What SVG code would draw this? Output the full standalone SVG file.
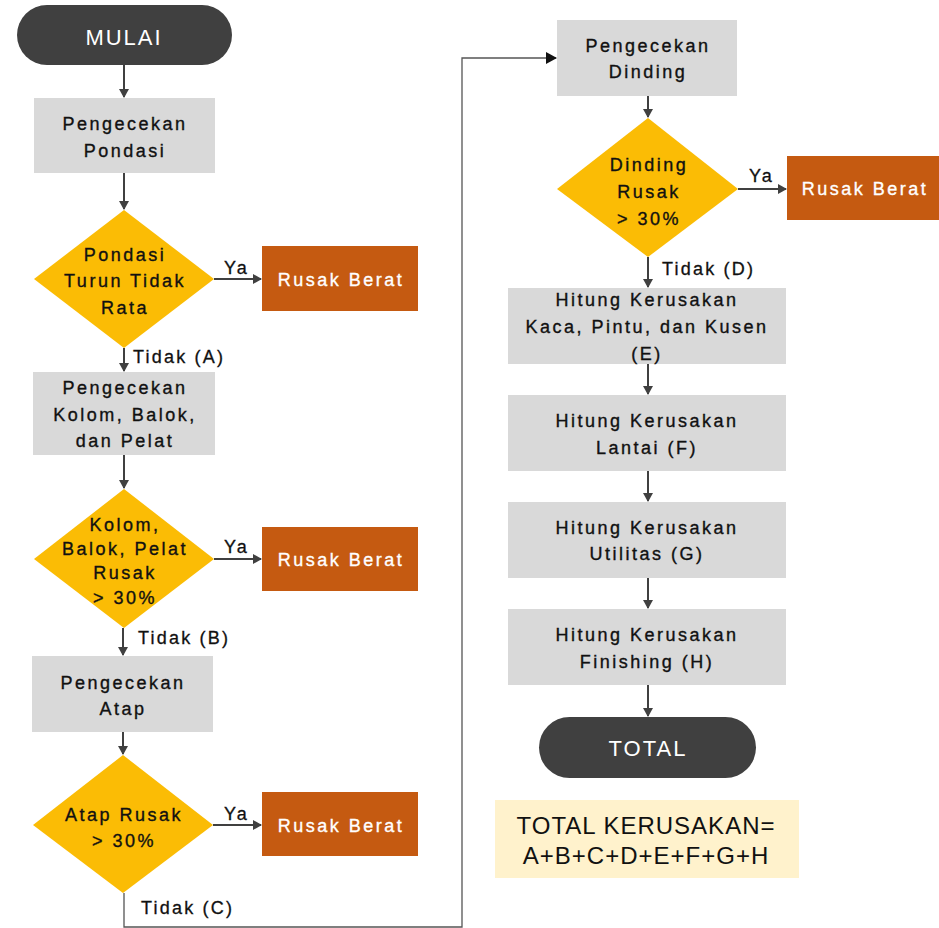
<svg xmlns="http://www.w3.org/2000/svg" width="939" height="928" viewBox="0 0 939 928">
<style>
  .t{font-family:"Liberation Sans","DejaVu Sans",sans-serif;font-size:18px;letter-spacing:2.5px;fill:#111;stroke:#111;stroke-width:0.35px;text-anchor:middle}
  .w{fill:#fff;stroke:#fff}
  .term{fill:#404040}
  .box{fill:#d9d9d9}
  .dia{fill:#fbbc05}
  .red{fill:#c55a11}
  .lbl{font-family:"Liberation Sans","DejaVu Sans",sans-serif;font-size:18px;letter-spacing:2.2px;fill:#111;stroke:#111;stroke-width:0.3px}
  .big{font-family:"Liberation Sans","DejaVu Sans",sans-serif;font-size:22px;letter-spacing:2px;fill:#fff;text-anchor:middle}
  .sum{font-family:"Liberation Sans","DejaVu Sans",sans-serif;font-size:24px;letter-spacing:1px;fill:#111;text-anchor:middle}
  .c{stroke:#404040;stroke-width:2;fill:none}
  .c2{stroke:#555;stroke-width:1.3;fill:none}
</style>
<defs>
  <marker id="ah" markerWidth="10" markerHeight="10" refX="8" refY="5" orient="auto" markerUnits="userSpaceOnUse">
    <path d="M0,0 L9,5 L0,10 Z" fill="#404040"/>
  </marker>
  <marker id="ah2" markerWidth="12" markerHeight="12" refX="10" refY="6" orient="auto" markerUnits="userSpaceOnUse">
    <path d="M0,0 L11,6 L0,12 Z" fill="#111"/>
  </marker>
</defs>

<g id="connectors">
  <path class="c" d="M124,65 V97" marker-end="url(#ah)"/>
  <path class="c" d="M124,173 V209" marker-end="url(#ah)"/>
  <path class="c" d="M214,279 H261" marker-end="url(#ah)"/>
  <path class="c" d="M124,348 V371" marker-end="url(#ah)"/>
  <path class="c" d="M124,455 V488" marker-end="url(#ah)"/>
  <path class="c" d="M214,559 H261" marker-end="url(#ah)"/>
  <path class="c" d="M123,628 V655" marker-end="url(#ah)"/>
  <path class="c" d="M123,732 V754" marker-end="url(#ah)"/>
  <path class="c" d="M213,825 H261" marker-end="url(#ah)"/>
  <path class="c2" d="M124,893 V927 H462 V58 H556" marker-end="url(#ah2)"/>
  <path class="c" d="M648,96 V117" marker-end="url(#ah)"/>
  <path class="c" d="M738,189 H786" marker-end="url(#ah)"/>
  <path class="c" d="M648,257 V287" marker-end="url(#ah)"/>
  <path class="c" d="M648,364 V394" marker-end="url(#ah)"/>
  <path class="c" d="M648,471 V501" marker-end="url(#ah)"/>
  <path class="c" d="M648,578 V608" marker-end="url(#ah)"/>
  <path class="c" d="M648,685 V716" marker-end="url(#ah)"/>
  <text class="lbl" x="224" y="274">Ya</text>
  <text class="lbl" x="224" y="553">Ya</text>
  <text class="lbl" x="224" y="820">Ya</text>
  <text class="lbl" x="749" y="182">Ya</text>
  <text class="lbl" x="133" y="363">Tidak (A)</text>
  <text class="lbl" x="138" y="644">Tidak (B)</text>
  <text class="lbl" x="141" y="914">Tidak (C)</text>
  <text class="lbl" x="662" y="275">Tidak (D)</text>
</g>

<g id="mulai">
  <rect class="term" x="17" y="5" width="215" height="60" rx="30"/>
  <text class="big" x="124" y="45">MULAI</text>
</g>
<g id="cek-pondasi">
  <rect class="box" x="34" y="98" width="181" height="75"/>
  <text class="t" x="125" y="130">Pengecekan</text>
  <text class="t" x="125" y="157">Pondasi</text>
</g>
<g id="d-pondasi">
  <polygon class="dia" points="124,210 214,279 124,348 34,279"/>
  <text class="t" x="125" y="261">Pondasi</text>
  <text class="t" x="125" y="287">Turun Tidak</text>
  <text class="t" x="125" y="314">Rata</text>
</g>
<g id="rb1">
  <rect class="red" x="262" y="246" width="156" height="65"/>
  <text class="t w" x="341" y="286">Rusak Berat</text>
</g>
<g id="cek-kolom">
  <rect class="box" x="33" y="372" width="182" height="83"/>
  <text class="t" x="125" y="394">Pengecekan</text>
  <text class="t" x="125" y="421">Kolom, Balok,</text>
  <text class="t" x="125" y="447">dan Pelat</text>
</g>
<g id="d-kolom">
  <polygon class="dia" points="124,489 214,559 124,628 34,559"/>
  <text class="t" x="125" y="531">Kolom,</text>
  <text class="t" x="125" y="555">Balok, Pelat</text>
  <text class="t" x="125" y="579">Rusak</text>
  <text class="t" x="125" y="604">&gt; 30%</text>
</g>
<g id="rb2">
  <rect class="red" x="262" y="527" width="156" height="64"/>
  <text class="t w" x="341" y="566">Rusak Berat</text>
</g>
<g id="cek-atap">
  <rect class="box" x="32" y="656" width="181" height="76"/>
  <text class="t" x="123" y="689">Pengecekan</text>
  <text class="t" x="123" y="715">Atap</text>
</g>
<g id="d-atap">
  <polygon class="dia" points="123,755 213,825 123,893 33,825"/>
  <text class="t" x="124" y="821">Atap Rusak</text>
  <text class="t" x="124" y="847">&gt; 30%</text>
</g>
<g id="rb3">
  <rect class="red" x="262" y="792" width="156" height="64"/>
  <text class="t w" x="341" y="832">Rusak Berat</text>
</g>
<g id="cek-dinding">
  <rect class="box" x="557" y="20" width="180" height="76"/>
  <text class="t" x="648" y="52">Pengecekan</text>
  <text class="t" x="648" y="78">Dinding</text>
</g>
<g id="d-dinding">
  <polygon class="dia" points="648,118 738,189 648,257 557,189"/>
  <text class="t" x="649" y="171">Dinding</text>
  <text class="t" x="649" y="198">Rusak</text>
  <text class="t" x="649" y="225">&gt; 30%</text>
</g>
<g id="rb4">
  <rect class="red" x="787" y="156" width="152" height="64"/>
  <text class="t w" x="865" y="195">Rusak Berat</text>
</g>
<g id="hitung-e">
  <rect class="box" x="508" y="288" width="278" height="76"/>
  <text class="t" x="647" y="306">Hitung Kerusakan</text>
  <text class="t" x="647" y="333">Kaca, Pintu, dan Kusen</text>
  <text class="t" x="647" y="360">(E)</text>
</g>
<g id="hitung-f">
  <rect class="box" x="508" y="395" width="278" height="76"/>
  <text class="t" x="647" y="427">Hitung Kerusakan</text>
  <text class="t" x="647" y="454">Lantai (F)</text>
</g>
<g id="hitung-g">
  <rect class="box" x="508" y="502" width="278" height="76"/>
  <text class="t" x="647" y="534">Hitung Kerusakan</text>
  <text class="t" x="647" y="560">Utilitas (G)</text>
</g>
<g id="hitung-h">
  <rect class="box" x="508" y="609" width="278" height="76"/>
  <text class="t" x="647" y="641">Hitung Kerusakan</text>
  <text class="t" x="647" y="668">Finishing (H)</text>
</g>
<g id="total">
  <rect class="term" x="539" y="717" width="217" height="61" rx="30.5"/>
  <text class="big" x="648" y="756">TOTAL</text>
</g>
<g id="rumus">
  <rect x="495" y="800" width="304" height="78" fill="#fff2cc"/>
  <text class="sum" x="646" y="834">TOTAL KERUSAKAN=</text>
  <text class="sum" x="646" y="864">A+B+C+D+E+F+G+H</text>
</g>
</svg>
